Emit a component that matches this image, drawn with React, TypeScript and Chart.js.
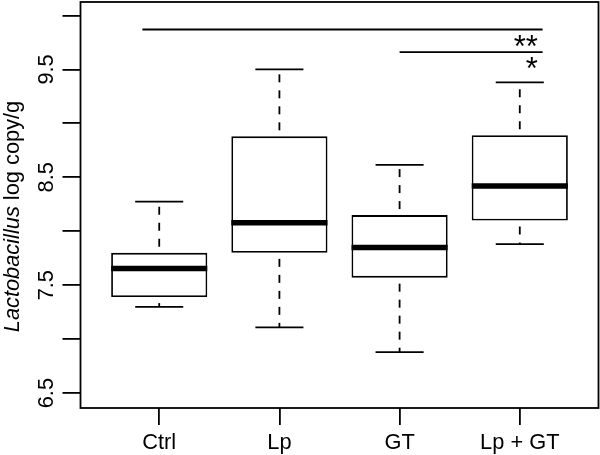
import React, { useEffect, useRef } from 'react';
import { Chart, registerables } from 'chart.js';

Chart.register(...registerables);

// ---- data ----
const categories = ['Ctrl', 'Lp', 'GT', 'Lp + GT'];
const positions = [1, 2, 3, 4];
const whiskerLow = [7.3, 7.11, 6.88, 7.88];
const q1 = [7.39, 7.8, 7.57, 8.1];
const medians = [7.655, 8.08, 7.85, 8.42];
const q3 = [7.8, 8.88, 8.15, 8.89];
const whiskerHigh = [8.275, 9.5, 8.615, 9.38];

const yTicks = [6.5, 7.0, 7.5, 8.0, 8.5, 9.0, 9.5, 10.0];
const yTickLabels = ['6.5', '', '7.5', '', '8.5', '', '9.5', ''];
const yMin = 6.362;
const yMax = 10.125;
const xMin = 0.345;
const xMax = 4.655;

// significance bars
const sigFrom = [0.86, 3.0];
const sigTo = [4.19, 4.19];
const sigY = [9.87, 9.66];
const sigLabels = ['**', '*'];
const sigLabelX = [4.15, 4.15];

const yTitleItalic = 'Lactobacillus';
const yTitleRest = ' log copy/g';

const FONT = "'Liberation Sans', Arial, Helvetica, sans-serif";
const LW = 1.8;

const boxPlugin = {
  id: 'boxExtras',
  afterDatasetsDraw(chart: any) {
    const { ctx } = chart;
    const x = chart.scales.x;
    const y = chart.scales.y;
    ctx.save();
    ctx.strokeStyle = '#000';
    positions.forEach((p, i) => {
      const cx = x.getPixelForValue(p);
      const bl = x.getPixelForValue(p - 0.4);
      const br = x.getPixelForValue(p + 0.4);
      const cl = x.getPixelForValue(p - 0.2);
      const cr = x.getPixelForValue(p + 0.2);
      // dashed whiskers
      ctx.lineWidth = LW;
      ctx.lineCap = 'butt';
      ctx.setLineDash([8, 8]);
      ctx.lineDashOffset = 10;
      ctx.beginPath();
      ctx.moveTo(cx, y.getPixelForValue(q3[i]));
      ctx.lineTo(cx, y.getPixelForValue(whiskerHigh[i]));
      ctx.stroke();
      ctx.beginPath();
      ctx.moveTo(cx, y.getPixelForValue(q1[i]));
      ctx.lineTo(cx, y.getPixelForValue(whiskerLow[i]));
      ctx.stroke();
      ctx.setLineDash([]);
      // staples
      [whiskerHigh[i], whiskerLow[i]].forEach((v) => {
        const py = y.getPixelForValue(v);
        ctx.beginPath();
        ctx.moveTo(cl, py);
        ctx.lineTo(cr, py);
        ctx.stroke();
      });
      // median
      ctx.lineWidth = 5.5;
      const pm = y.getPixelForValue(medians[i]);
      ctx.beginPath();
      ctx.moveTo(bl, pm);
      ctx.lineTo(br, pm);
      ctx.stroke();
    });
    ctx.restore();
  },
  afterDraw(chart: any) {
    const { ctx, chartArea } = chart;
    const x = chart.scales.x;
    const y = chart.scales.y;
    ctx.save();
    // frame
    ctx.strokeStyle = '#000';
    ctx.lineWidth = LW;
    ctx.strokeRect(chartArea.left, chartArea.top, chartArea.right - chartArea.left, chartArea.bottom - chartArea.top);

    // y tick labels (rotated)
    ctx.fillStyle = '#000';
    ctx.font = `21.8px ${FONT}`;
    ctx.textAlign = 'center';
    ctx.textBaseline = 'alphabetic';
    yTicks.forEach((v, i) => {
      const lab = yTickLabels[i];
      if (!lab) return;
      const py = y.getPixelForValue(v);
      ctx.save();
      ctx.translate(chartArea.left - 27.2, py);
      ctx.rotate(-Math.PI / 2);
      ctx.fillText(lab, 0, 0);
      ctx.restore();
    });

    // y title
    ctx.save();
    ctx.translate(19.4, (chartArea.top + chartArea.bottom) / 2 + 11.5);
    ctx.rotate(-Math.PI / 2);
    ctx.textAlign = 'left';
    ctx.font = `italic 21.8px ${FONT}`;
    const w1 = ctx.measureText(yTitleItalic).width;
    ctx.font = `21.8px ${FONT}`;
    const w2 = ctx.measureText(yTitleRest).width;
    const start = -(w1 + w2) / 2;
    ctx.font = `italic 21.8px ${FONT}`;
    ctx.fillText(yTitleItalic, start, 0);
    ctx.font = `21.8px ${FONT}`;
    ctx.fillText(yTitleRest, start + w1, 0);
    ctx.restore();

    // significance bars
    ctx.lineWidth = LW;
    sigFrom.forEach((f, i) => {
      const py = y.getPixelForValue(sigY[i]);
      ctx.beginPath();
      ctx.moveTo(x.getPixelForValue(f), py);
      ctx.lineTo(x.getPixelForValue(sigTo[i]), py);
      ctx.stroke();
      ctx.font = `31px ${FONT}`;
      ctx.textAlign = 'right';
      ctx.textBaseline = 'alphabetic';
      const m = ctx.measureText(sigLabels[i]);
      ctx.fillText(sigLabels[i], x.getPixelForValue(sigLabelX[i]), py + 5.2 + m.actualBoundingBoxAscent);
    });
    ctx.restore();
  },
};

export default function App() {
  const ref = useRef<HTMLCanvasElement | null>(null);
  useEffect(() => {
    if (!ref.current) return;
    const chart = new Chart(ref.current, {
      type: 'bar',
      data: {
        datasets: [
          {
            label: 'IQR',
            data: positions.map((p, i) => ({ x: p, y: [q1[i], q3[i]] })) as any,
            backgroundColor: '#ffffff',
            borderColor: '#000000',
            borderWidth: LW,
            borderSkipped: false,
            barPercentage: 0.8,
            categoryPercentage: 1,
          },
        ],
      },
      options: {
        responsive: false,
        animation: false,
        events: [],
        layout: { padding: { top: 2, right: 1.5, bottom: 0, left: 0 } },
        plugins: { legend: { display: false }, tooltip: { enabled: false }, title: { display: false } },
        scales: {
          x: {
            type: 'linear',
            min: xMin,
            max: xMax,
            offset: false,
            border: { display: false },
            grid: { offset: false, drawOnChartArea: false, drawTicks: true, tickLength: 17, color: '#000', lineWidth: LW },
            afterBuildTicks: (scale: any) => {
              scale.ticks = positions.map((v) => ({ value: v }));
            },
            afterFit: (scale: any) => {
              scale.height = 47;
            },
            ticks: {
              autoSkip: false,
              maxRotation: 0,
              minRotation: 0,
              padding: 4.5,
              color: '#000',
              font: { family: FONT, size: 21.8 },
              callback: (v: any) => {
                const idx = positions.indexOf(Number(v));
                return idx >= 0 ? categories[idx] : '';
              },
            },
          },
          y: {
            type: 'linear',
            min: yMin,
            max: yMax,
            border: { display: false },
            grid: { drawOnChartArea: false, drawTicks: true, tickLength: 18, color: '#000', lineWidth: LW },
            afterBuildTicks: (scale: any) => {
              scale.ticks = yTicks.map((v) => ({ value: v }));
            },
            afterFit: (scale: any) => {
              scale.width = 80.5;
            },
            ticks: { display: false },
          },
        },
      },
      plugins: [boxPlugin],
    });
    return () => chart.destroy();
  }, []);
  return (
    <div style={{ position: 'absolute', left: 0, top: 0, width: 600, height: 455, background: '#fff' }}>
      <canvas ref={ref} width={600} height={455} style={{ display: 'block' }} />
    </div>
  );
}
